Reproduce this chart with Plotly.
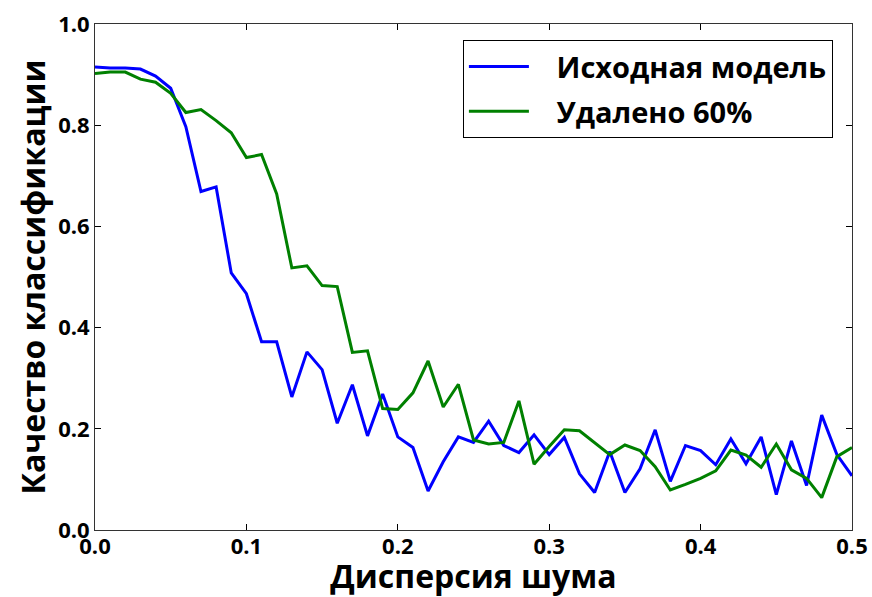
import plotly.graph_objects as go

x_vals = [round(i * 0.01, 2) for i in range(51)]

base_model = [0.915, 0.913, 0.913, 0.911, 0.897, 0.873, 0.797, 0.669, 0.678, 0.508,
              0.467, 0.372, 0.372, 0.263, 0.352, 0.317, 0.211, 0.287, 0.186, 0.269,
              0.184, 0.163, 0.077, 0.135, 0.184, 0.173, 0.215, 0.167, 0.153, 0.188,
              0.149, 0.183, 0.111, 0.074, 0.155, 0.074, 0.121, 0.198, 0.096, 0.167,
              0.157, 0.129, 0.180, 0.131, 0.184, 0.070, 0.176, 0.088, 0.227, 0.149,
              0.107]

removed_60 = [0.902, 0.905, 0.905, 0.891, 0.885, 0.863, 0.825, 0.831, 0.809, 0.785,
              0.736, 0.742, 0.664, 0.518, 0.522, 0.483, 0.481, 0.351, 0.354, 0.240,
              0.238, 0.271, 0.334, 0.243, 0.288, 0.178, 0.170, 0.173, 0.255, 0.130,
              0.165, 0.198, 0.196, 0.172, 0.149, 0.168, 0.157, 0.125, 0.079, 0.090,
              0.102, 0.117, 0.158, 0.148, 0.124, 0.170, 0.119, 0.102, 0.064, 0.145,
              0.163]

series_names = ["Исходная модель", "Удалено 60%"]
x_ticks = [0.0, 0.1, 0.2, 0.3, 0.4, 0.5]
y_ticks = [0.0, 0.2, 0.4, 0.6, 0.8, 1.0]

font_family = "Open Sans"
pad = "\u00a0\u00a0\u00a0"

fig = go.Figure()
fig.add_trace(go.Scatter(x=x_vals, y=base_model, mode="lines", name=pad + series_names[0],
                         legendgroup="a", line=dict(color="#0000ff", width=3)))
fig.add_trace(go.Scatter(x=x_vals, y=removed_60, mode="lines", name=pad + series_names[1],
                         legendgroup="b", line=dict(color="#008000", width=3)))

axis_common = dict(showgrid=False, zeroline=False, showline=True, linecolor="#333333",
                   linewidth=1, mirror="ticks", ticks="inside", ticklen=6,
                   tickcolor="black", automargin=False,
                   tickfont=dict(family=font_family, size=22, color="black", weight="bold"))

fig.update_xaxes(range=[0, 0.5], tickvals=x_ticks, ticktext=[f"{v:.1f}" for v in x_ticks],
                 ticklabelstandoff=-3,
                 title=dict(text="Дисперсия шума",
                            font=dict(family=font_family, size=32, color="black", weight="bold"),
                            standoff=6),
                 **axis_common)
fig.update_yaxes(range=[0, 1.0], tickvals=y_ticks, ticktext=[f"{v:.1f}" for v in y_ticks],
                 title=dict(text="Качество классификации",
                            font=dict(family=font_family, size=32, color="black", weight="bold"),
                            standoff=2),
                 **axis_common)

fig.update_layout(
    width=872, height=597,
    margin=dict(l=95, r=20, t=24, b=67),
    plot_bgcolor="white", paper_bgcolor="white",
    font=dict(family=font_family, color="black"),
    legend=dict(x=0.486, y=0.968, xanchor="left", yanchor="top",
                bordercolor="black", borderwidth=1, bgcolor="white",
                font=dict(family=font_family, size=29, color="black", weight="bold"),
                itemwidth=60, tracegroupgap=4),
)

fig.write_html("out.html")
